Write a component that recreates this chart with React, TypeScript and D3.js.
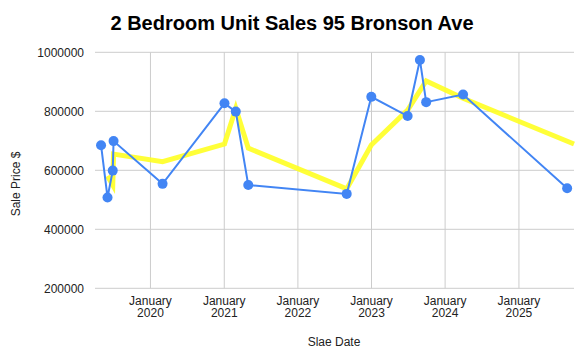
import React from 'react'
import * as d3 from 'd3'

const saleDates = ['2019-05-01', '2019-06-02', '2019-06-28', '2019-07-02', '2020-03-01', '2021-01-02', '2021-02-27', '2021-04-30', '2022-08-31', '2022-12-31', '2023-06-29', '2023-08-29', '2023-09-29', '2024-03-30', '2025-08-28']
const salePrices = [685000, 508000, 599000, 699000, 554000, 827000, 799000, 550000, 520000, 849000, 784000, 974000, 831000, 857000, 539000]

const trendDates = ['2019-06-02', '2019-06-28', '2019-07-02', '2020-03-01', '2021-01-02', '2021-02-27', '2021-04-30', '2022-08-31', '2022-12-31', '2023-06-29', '2023-09-29', '2024-03-30', '2025-10-01']
const trendPrices = [581000, 550000, 655000, 629000, 689000, 810000, 675000, 537000, 686000, 804000, 903000, 844000, 689000]

const yTicks = [200000, 400000, 600000, 800000, 1000000]
const xTickYears = [2020, 2021, 2022, 2023, 2024, 2025]

const width = 585
const height = 363
const font = 'Arial, "Liberation Sans", sans-serif'

type Pt = { date: Date; value: number }

export default function App() {
    const x = d3.scaleTime()
        .domain([new Date(2019, 3, 1), new Date(2025, 9, 1)])
        .range([95, 574])
    const y = d3.scaleLinear().domain([200000, 1000000]).range([288.3, 52.3])

    const sales: Pt[] = saleDates.map((d, i) => ({ date: new Date(d + 'T00:00:00'), value: salePrices[i] }))
    const trend: Pt[] = trendDates.map((d, i) => ({ date: new Date(d + 'T00:00:00'), value: trendPrices[i] }))

    const line = d3.line<Pt>().x(d => x(d.date)).y(d => y(d.value))

    const [x0, x1] = x.range()

    return (
        <div style={{ position: 'absolute', left: 0, top: 0 }}>
            <svg width={width} height={height} style={{ display: 'block', background: '#fff' }} fontFamily={font}>
                <text x={292} y={29.5} textAnchor="middle" fontSize={20} fontWeight="bold" fill="#000">
                    2 Bedroom Unit Sales 95 Bronson Ave
                </text>

                {/* gridlines */}
                {yTicks.map(t => (
                    <line key={t} x1={x0} x2={x1} y1={y(t)} y2={y(t)} stroke="#cccccc" strokeWidth={1} />
                ))}
                {xTickYears.map(yr => (
                    <line key={yr} x1={x(new Date(yr, 0, 1))} x2={x(new Date(yr, 0, 1))} y1={y(1000000)} y2={y(200000)} stroke="#cccccc" strokeWidth={1} />
                ))}

                {/* y labels */}
                {yTicks.map(t => (
                    <text key={t} x={84} y={y(t)} dy="0.35em" textAnchor="end" fontSize={12} fill="#222">
                        {t}
                    </text>
                ))}

                {/* x labels, two lines each */}
                {xTickYears.map(yr => {
                    const px = x(new Date(yr, 0, 1))
                    return (
                        <g key={yr} fontSize={12} fill="#222" textAnchor="middle">
                            <text x={px} y={304.5}>January</text>
                            <text x={px} y={316.5}>{yr}</text>
                        </g>
                    )
                })}

                <text x={334} y={345.5} textAnchor="middle" fontSize={12} fill="#222">Slae Date</text>
                <text transform="translate(20,184) rotate(-90)" textAnchor="middle" fontSize={12} fill="#222">Sale Price $</text>

                {/* trend */}
                <path d={line(trend) ?? ''} fill="none" stroke="#ffff22" strokeWidth={5} strokeOpacity={0.9} />

                {/* sales */}
                <path d={line(sales) ?? ''} fill="none" stroke="#4285f4" strokeWidth={2} />
                {sales.map((d, i) => (
                    <circle key={i} cx={x(d.date)} cy={y(d.value)} r={5} fill="#4285f4" />
                ))}
            </svg>
        </div>
    )
}
